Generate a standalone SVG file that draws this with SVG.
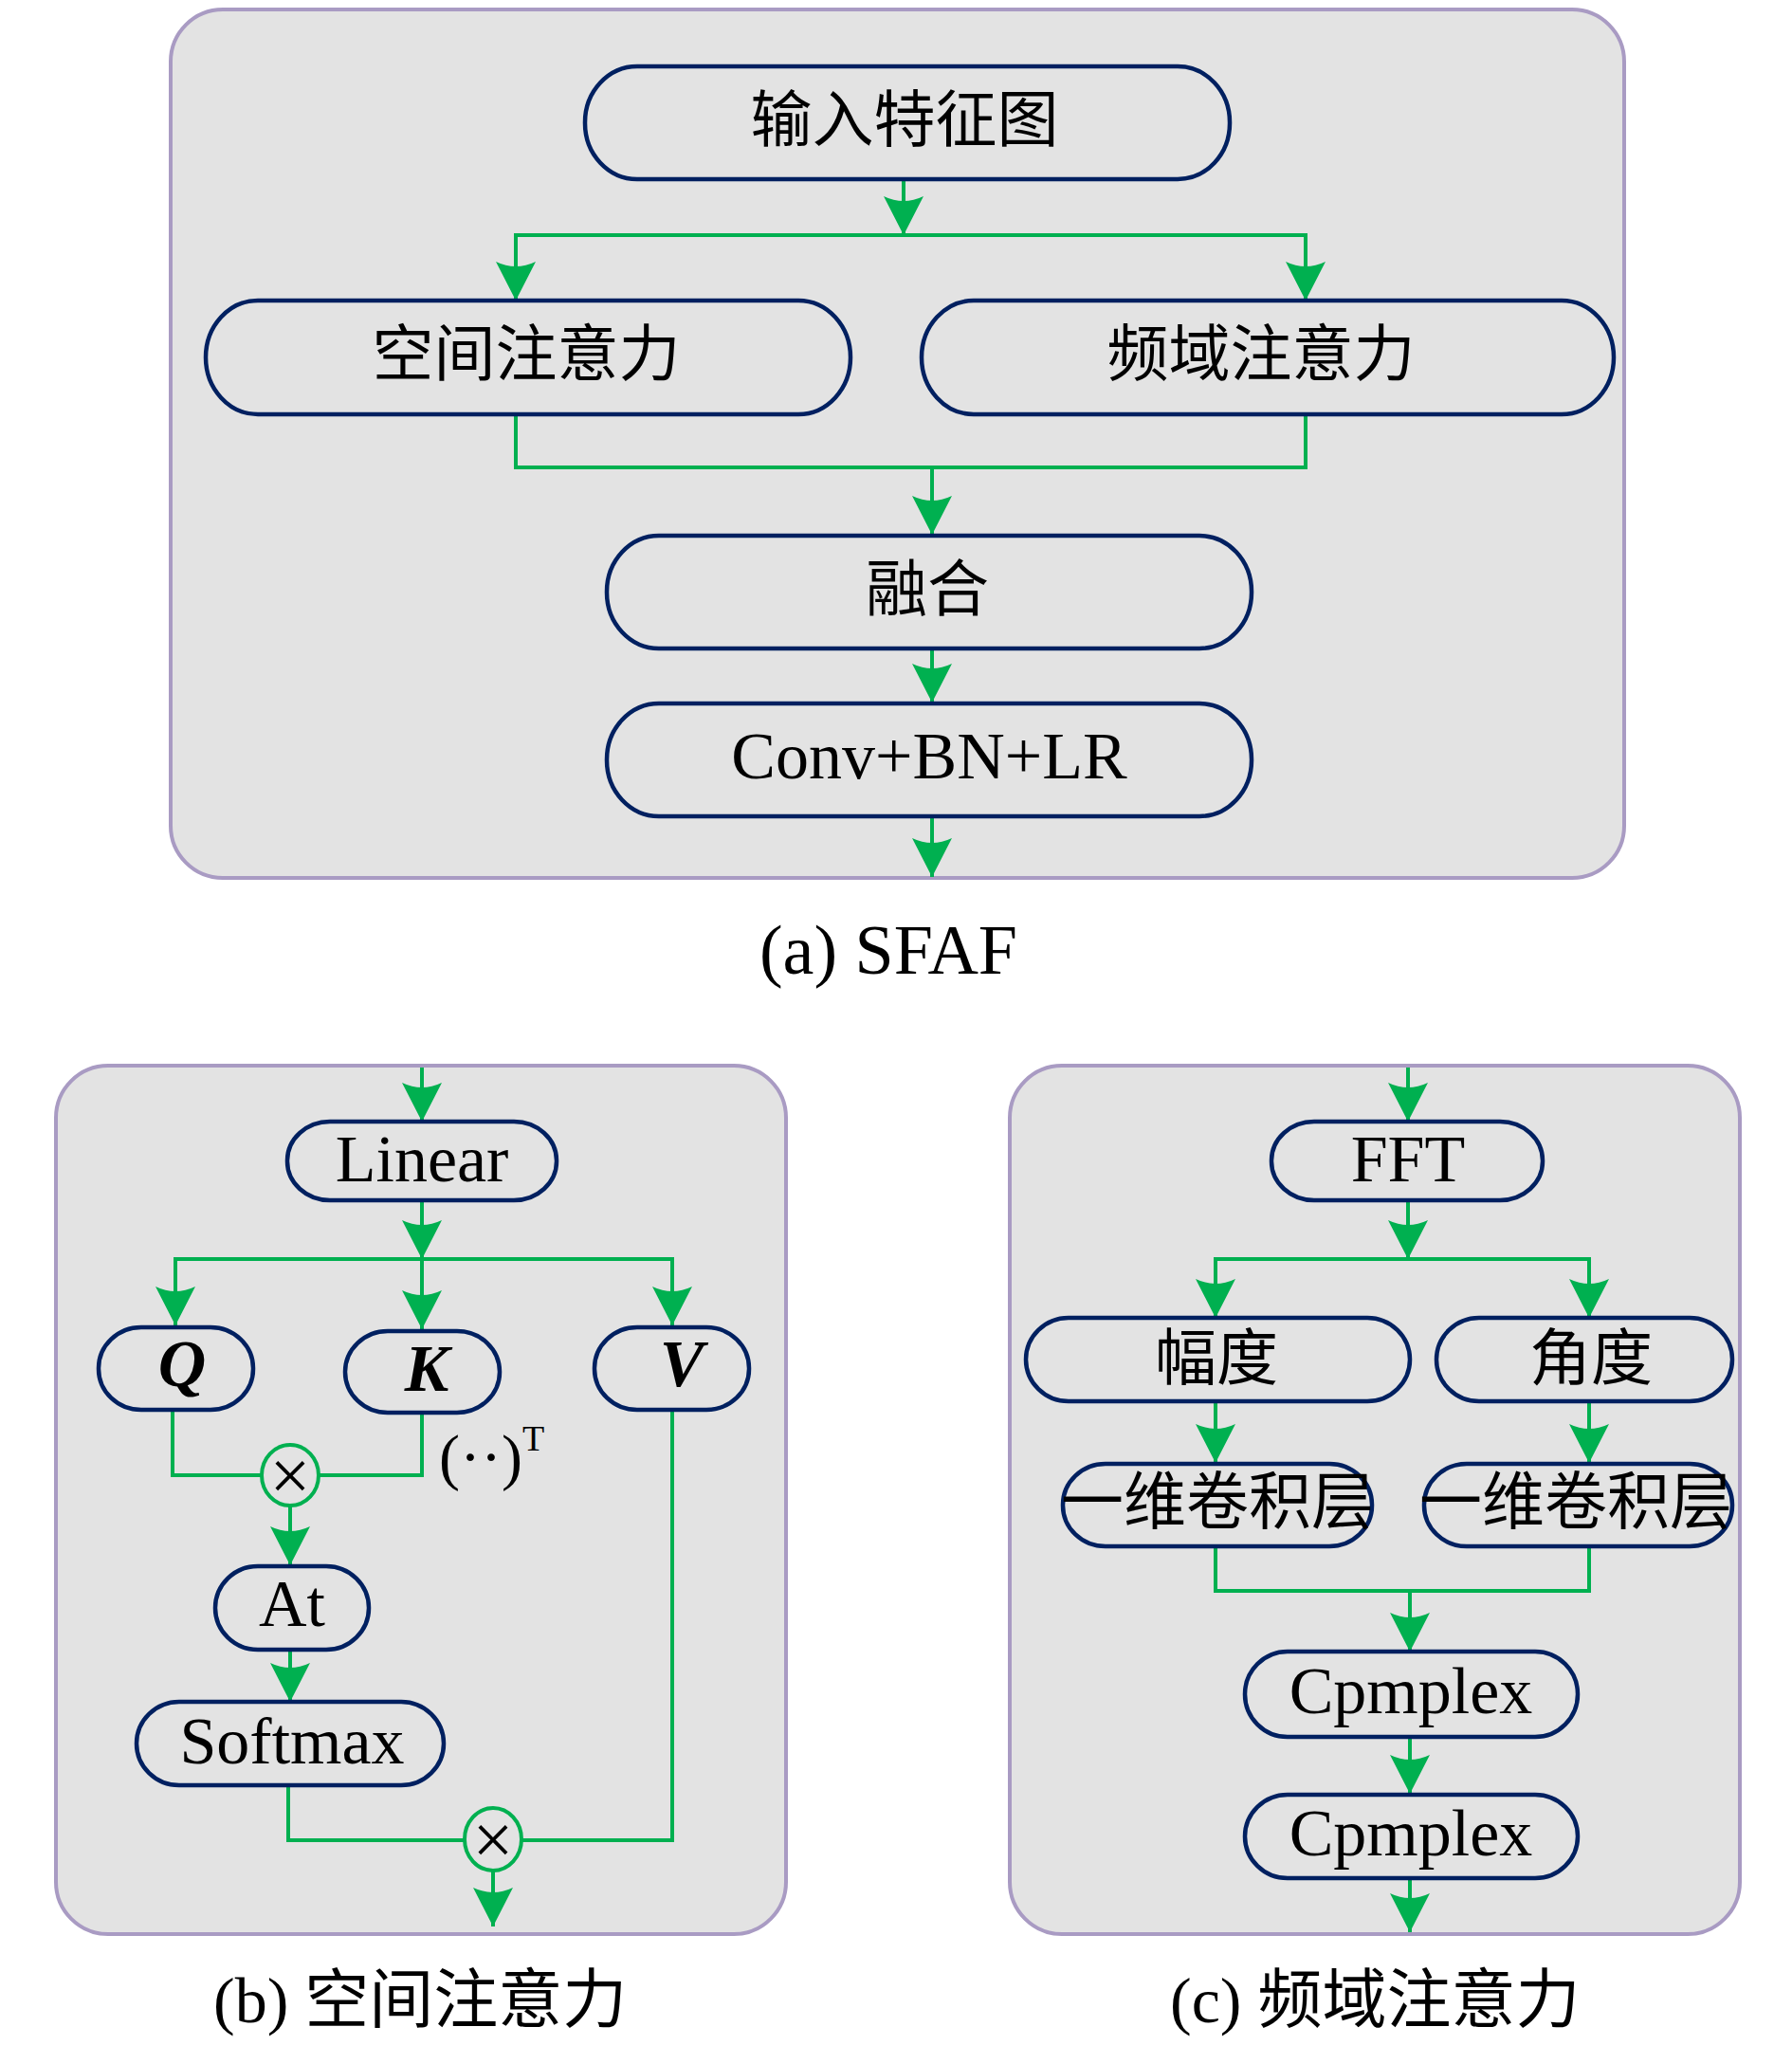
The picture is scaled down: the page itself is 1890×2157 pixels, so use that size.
<svg xmlns="http://www.w3.org/2000/svg" width="1890" height="2157" viewBox="0 0 1890 2157">
<style>
.panel{fill:#e3e3e3;stroke:#a99bc3;stroke-width:4}
.node{fill:#e3e3e3;stroke:#002060;stroke-width:4.5}
.cn{font-family:"Liberation Serif","Noto Sans CJK SC",serif;font-size:65px;fill:#000;text-anchor:middle}
.lt{font-family:"Liberation Serif",serif;font-size:70px;fill:#000;text-anchor:middle}
.bi{font-family:"Liberation Serif",serif;font-size:70px;font-weight:bold;font-style:italic;fill:#000;text-anchor:middle}
.cap{font-family:"Liberation Serif","Noto Sans CJK SC",serif;font-size:68px;fill:#000}
.edge{fill:none;stroke:#00b050;stroke-width:4;marker-end:url(#ah)}
.line{fill:none;stroke:#00b050;stroke-width:4}
.op{fill:#e3e3e3;stroke:#00b050;stroke-width:4}
</style>
<defs>
<marker id="ah" markerUnits="userSpaceOnUse" viewBox="-42 -22 44 44" refX="0" refY="0" markerWidth="44" markerHeight="44" orient="auto">
<path d="M0,0 L-41,-21 Q-31,0 -41,21 Z" fill="#00b050"/>
</marker>
</defs>

<!-- panels -->
<rect class="panel" x="180" y="10" width="1533" height="916" rx="55" ry="55"/>
<rect class="panel" x="59" y="1124" width="770" height="916" rx="55" ry="55"/>
<rect class="panel" x="1065" y="1124" width="770" height="916" rx="55" ry="55"/>

<!-- connectors -->
<g id="connectors">
<path class="edge" d="M953 189 V248"/>
<path class="edge" d="M953 248 H544 V317"/>
<path class="edge" d="M953 248 H1377 V317"/>
<path class="line" d="M544 437 V493 H1377 V437"/>
<path class="edge" d="M983 493 V564"/>
<path class="edge" d="M983 684 V741"/>
<path class="edge" d="M983 861 V925"/>

<path class="edge" d="M445 1126 V1183"/>
<path class="edge" d="M445 1266 V1328"/>
<path class="edge" d="M445 1328 H185 V1398"/>
<path class="edge" d="M445 1328 V1402"/>
<path class="edge" d="M445 1328 H709 V1398"/>
<path class="line" d="M182 1487 V1556 H276"/>
<path class="line" d="M445 1490 V1556 H336"/>
<path class="edge" d="M306 1588 V1651"/>
<path class="edge" d="M306 1740 V1795"/>
<path class="line" d="M304 1883 V1941 H490"/>
<path class="line" d="M709 1487 V1941 H550"/>
<path class="edge" d="M520 1973 V2032"/>

<path class="edge" d="M1485 1126 V1183"/>
<path class="edge" d="M1485 1266 V1328"/>
<path class="edge" d="M1485 1328 H1282 V1390"/>
<path class="edge" d="M1485 1328 H1676 V1390"/>
<path class="edge" d="M1282 1478 V1543"/>
<path class="edge" d="M1676 1478 V1543"/>
<path class="line" d="M1282 1631 V1678 H1676 V1631"/>
<path class="edge" d="M1487 1678 V1742"/>
<path class="edge" d="M1487 1832 V1892"/>
<path class="edge" d="M1487 1981 V2038"/>
</g>

<!-- panel (a) -->
<g id="input"><rect class="node" x="617" y="70" width="680" height="119" rx="55" ry="59"/><text class="cn" x="954" y="149">输入特征图</text></g>
<g id="spatial"><rect class="node" x="217" y="317" width="680" height="120" rx="55" ry="60"/><text class="cn" x="555" y="396">空间注意力</text></g>
<g id="freq"><rect class="node" x="972" y="317" width="730" height="120" rx="55" ry="60"/><text class="cn" x="1330" y="396">频域注意力</text></g>
<g id="fuse"><rect class="node" x="640" y="565" width="680" height="119" rx="55" ry="59"/><text class="cn" x="978" y="644">融合</text></g>
<g id="conv"><rect class="node" x="640" y="742" width="680" height="119" rx="55" ry="59"/><text class="lt" x="980" y="821">Conv+BN+LR</text></g>
<text id="cap-a" class="cap" x="937" y="1027" style="text-anchor:middle;font-size:74px">(a) SFAF</text>

<!-- panel (b) -->
<g id="linear"><rect class="node" x="303" y="1183" width="284" height="83" rx="45" ry="41"/><text class="lt" x="445" y="1246">Linear</text></g>
<g id="q"><rect class="node" x="104" y="1400" width="163" height="87" rx="45" ry="43"/><text class="bi" x="192" y="1462">Q</text></g>
<g id="k"><rect class="node" x="364" y="1404" width="163" height="86" rx="45" ry="43"/><text class="bi" x="450" y="1467">K</text></g>
<g id="v"><rect class="node" x="627" y="1400" width="163" height="87" rx="45" ry="43"/><text class="bi" x="719" y="1462">V</text></g>
<g id="transpose"><text class="lt" x="463" y="1559" style="text-anchor:start;font-size:66px">(··)</text><text class="lt" x="551" y="1530" style="text-anchor:start;font-size:38px">T</text></g>
<g id="mul1"><ellipse class="op" cx="306" cy="1556" rx="30" ry="32"/><text class="lt" x="306" y="1582" style="font-size:76px">×</text></g>
<g id="at"><rect class="node" x="227" y="1652" width="162" height="88" rx="45" ry="44"/><text class="lt" x="308" y="1715">At</text></g>
<g id="softmax"><rect class="node" x="144" y="1795" width="324" height="88" rx="45" ry="44"/><text class="lt" x="308" y="1860">Softmax</text></g>
<g id="mul2"><ellipse class="op" cx="520" cy="1940" rx="30" ry="33"/><text class="lt" x="520" y="1966" style="font-size:76px">×</text></g>
<text id="cap-b" class="cap" x="225" y="2133">(b) 空间注意力</text>

<!-- panel (c) -->
<g id="fft"><rect class="node" x="1341" y="1183" width="286" height="83" rx="45" ry="41"/><text class="lt" x="1485" y="1246">FFT</text></g>
<g id="amp"><rect class="node" x="1082" y="1390" width="405" height="88" rx="45" ry="44"/><text class="cn" x="1283" y="1455">幅度</text></g>
<g id="phase"><rect class="node" x="1515" y="1390" width="312" height="88" rx="45" ry="44"/><text class="cn" x="1678" y="1455">角度</text></g>
<g id="conv1d-a"><rect class="node" x="1121" y="1544" width="326" height="87" rx="45" ry="43"/><text class="cn" x="1284" y="1607" style="font-size:66px">一维卷积层</text></g>
<g id="conv1d-b"><rect class="node" x="1502" y="1544" width="325" height="87" rx="45" ry="43"/><text class="cn" x="1662" y="1607" style="font-size:66px">一维卷积层</text></g>
<g id="complex1"><rect class="node" x="1313" y="1742" width="351" height="90" rx="45" ry="45"/><text class="lt" x="1488" y="1807">Cpmplex</text></g>
<g id="complex2"><rect class="node" x="1313" y="1893" width="351" height="88" rx="45" ry="44"/><text class="lt" x="1488" y="1957">Cpmplex</text></g>
<text id="cap-c" class="cap" x="1234" y="2133">(c) 频域注意力</text>
</svg>
